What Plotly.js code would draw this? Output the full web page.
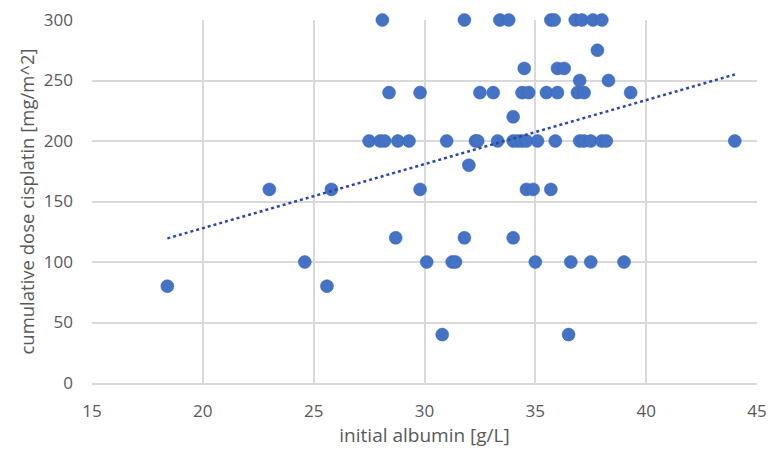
<!DOCTYPE html>
<html>
<head>
<meta charset="utf-8">
<script src="https://cdn.plot.ly/plotly-3.0.1.min.js"></script>
<style>html,body{margin:0;padding:0;background:#fff;}#chart{width:768px;height:453px;}</style>
</head>
<body>
<div id="chart"></div>
<script>
const albumin = [18.4,23.0,24.6,25.6,25.8,27.5,28.0,28.1,28.2,28.4,28.7,28.8,29.3,29.8,29.8,30.1,30.8,31.0,31.25,31.4,31.8,31.8,32.0,32.3,32.4,32.5,33.1,33.3,33.4,33.8,34.0,34.0,34.0,34.2,34.4,34.4,34.5,34.6,34.6,34.7,34.9,35.0,35.1,35.5,35.7,35.7,35.85,35.9,36.0,36.0,36.3,36.5,36.6,36.8,36.9,37.0,37.0,37.1,37.2,37.2,37.5,37.5,37.6,37.8,38.0,38.0,38.2,38.3,39.0,39.3,44.0];
const dose = [80,160,100,80,160,200,200,300,200,240,120,200,200,240,160,100,40,200,100,100,300,120,180,200,200,240,240,200,300,300,220,200,120,200,200,240,260,200,160,240,160,100,200,240,300,160,300,200,260,240,260,40,100,300,240,250,200,300,240,200,200,100,300,275,300,200,200,250,100,240,200];
const xTicks = [15,20,25,30,35,40,45];
const yTicks = [0,50,100,150,200,250,300];
const xTitle = 'initial albumin [g/L]';
const yTitle = 'cumulative dose cisplatin [mg/m^2]';

// least-squares linear trendline
const n = albumin.length;
const mx = albumin.reduce((a,b)=>a+b,0)/n;
const my = dose.reduce((a,b)=>a+b,0)/n;
let sxy=0, sxx=0;
for (let i=0;i<n;i++){sxy+=(albumin[i]-mx)*(dose[i]-my);sxx+=(albumin[i]-mx)**2;}
const slope = sxy/sxx, intercept = my - slope*mx;
const xmin = Math.min(...albumin), xmax = Math.max(...albumin);
const trendX = [xmin, xmax];
const trendY = trendX.map(x => intercept + slope*x);

const fam = 'Open Sans, Liberation Sans, sans-serif';
const grey = '#595959';
Plotly.newPlot('chart', [
  {x: albumin, y: dose, type: 'scatter', mode: 'markers',
   marker: {color: '#4472C4', size: 13, line: {width: 0.5, color: '#3A64B0'}}, cliponaxis: false, hoverinfo: 'x+y'},
  {x: trendX, y: trendY, type: 'scatter', mode: 'lines',
   line: {color: '#2A48A8', width: 2.5, dash: 'dot'}, hoverinfo: 'skip'}
], {
  width: 768, height: 453,
  margin: {l: 92, r: 11, t: 20, b: 70},
  showlegend: false,
  paper_bgcolor: '#fff', plot_bgcolor: '#fff',
  font: {family: fam, color: grey},
  xaxis: {range: [15,45], tickvals: xTicks, ticktext: xTicks.map(String), showgrid: true, gridcolor: '#d9d9d9', gridwidth: 1.5,
    zeroline: false, showline: true, linecolor: '#d9d9d9', linewidth: 1.5, ticks: '', ticklen: 0, ticklabelstandoff: 12,
    automargin: false,
    tickfont: {size: 17, color: grey, family: fam},
    title: {text: xTitle, font: {size: 19, color: grey, family: fam}, standoff: 6}},
  yaxis: {range: [0,300], tickvals: yTicks, ticktext: yTicks.map(String), showgrid: true, gridcolor: '#d9d9d9', gridwidth: 1.5,
    zeroline: false, showline: false, ticks: '', ticklen: 0, ticklabelstandoff: 18,
    automargin: false,
    tickfont: {size: 17, color: grey, family: fam},
    title: {text: yTitle, font: {size: 18.5, color: grey, family: fam}, standoff: 4}}
}, {displayModeBar: false});
</script>
</body>
</html>
